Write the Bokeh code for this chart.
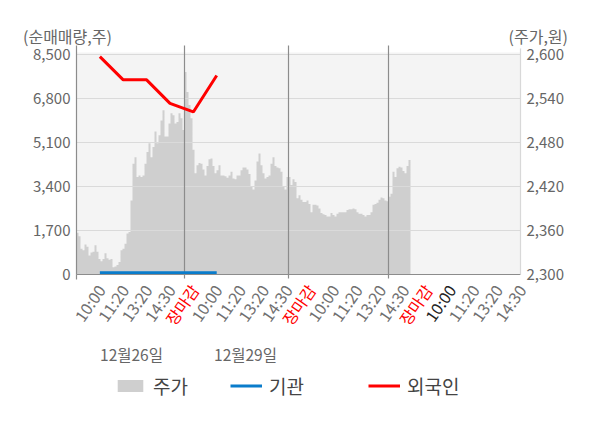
import math
import numpy as np
from bokeh.plotting import figure
from bokeh.models import (Range1d, LinearAxis, FixedTicker, NumeralTickFormatter, Grid,
                          ColumnDataSource, LabelSet, Label, Legend, LegendItem)
from bokeh.core.properties import value
from bokeh.embed import file_html
from bokeh.resources import INLINE

FONT = "Noto Sans CJK KR"

# ---------------- data ----------------
time_labels = ["10:00", "11:20", "13:20", "14:30", "장마감",
               "10:00", "11:20", "13:20", "14:30", "장마감",
               "10:00", "11:20", "13:20", "14:30", "장마감",
               "10:00", "11:20", "13:20", "14:30"]
date_labels = ["12월26일", "12월29일"]

# net buying (shares) at the first category points
foreign = [8420, 7520, 7520, 6610, 6280, 7690]      # 외국인
institution = [70, 70, 70, 70, 70, 70]               # 기관

# share price (won), one bar per interval, per trading day
price_day1 = [2357, 2352, 2335, 2333, 2341, 2338, 2326, 2330, 2331, 2340,
              2331, 2321, 2318, 2321, 2329, 2322, 2320, 2321, 2310, 2311,
              2313, 2317, 2333, 2335, 2342, 2356, 2358, 2401, 2451, 2460,
              2433, 2435, 2433, 2435, 2451, 2467, 2479, 2460, 2474, 2495,
              2479, 2490, 2510, 2524, 2488, 2488, 2506, 2520, 2517, 2506,
              2508, 2520, 2513, 2497]
price_day2 = [2576, 2549, 2531, 2513, 2470, 2438, 2449, 2452, 2451, 2443,
              2435, 2448, 2457, 2458, 2448, 2438, 2442, 2449, 2435, 2435,
              2434, 2432, 2435, 2440, 2431, 2430, 2435, 2435, 2442, 2446,
              2446, 2443, 2437, 2420, 2416, 2428, 2454, 2465, 2449, 2438,
              2431, 2433, 2435, 2451, 2460, 2448, 2446, 2445, 2440, 2420,
              2416, 2433]
price_day3 = [2433, 2422, 2430, 2426, 2404, 2408, 2402, 2399, 2399, 2401,
              2396, 2385, 2395, 2395, 2394, 2390, 2384, 2382, 2381, 2379,
              2379, 2384, 2381, 2379, 2383, 2385, 2385, 2385, 2385, 2388,
              2389, 2389, 2390, 2389, 2385, 2383, 2383, 2381, 2379, 2381,
              2381, 2385, 2395, 2396, 2398, 2402, 2405, 2404, 2401, 2400]
price_day4 = [2406, 2410, 2440, 2433, 2445, 2447, 2446, 2441, 2438, 2448, 2456]

left_ticks = [0, 1700, 3400, 5100, 6800, 8500]
right_ticks = [2300, 2360, 2420, 2480, 2540, 2600]

# ---------------- layout constants (window pixels) ----------------
W, H = 598, 426
FRAME_L, FRAME_T = 76, 52
FRAME_W, FRAME_H = 444, 222
FRAME_B = FRAME_T + FRAME_H
PRICE_SLOTS = 222                  # price bars that would fill the plot area
LEFT_MAX = 8577
RIGHT_MIN, RIGHT_MAX = 2300, 2602.7
n_cat = len(time_labels)

def x_at(px):   # window px -> price-slot x
    return (px - FRAME_L) * PRICE_SLOTS / FRAME_W

def c_at(px):   # window px -> category x
    return (px - FRAME_L) * n_cat / FRAME_W

def y_at(py):   # window px -> left-axis y
    return (FRAME_B - py) * LEFT_MAX / FRAME_H

def r_at(py):   # window px -> right-axis y
    return RIGHT_MIN + (FRAME_B - py) * (RIGHT_MAX - RIGHT_MIN) / FRAME_H

p = figure(width=W, height=H, min_border=0,
           x_range=Range1d(x_at(0), x_at(W)), y_range=Range1d(y_at(H), y_at(0)),
           x_axis_location=None, y_axis_location=None,
           output_backend="svg", toolbar_location=None,
           background_fill_color="white", border_fill_color="white",
           outline_line_color=None)
p.grid.visible = False
p.extra_x_ranges = {"cat": Range1d(c_at(0), c_at(W))}
p.extra_y_ranges = {"price": Range1d(r_at(H), r_at(0))}

# ---- plot area background ----
bg = p.quad(left=0, right=PRICE_SLOTS, bottom=0, top=LEFT_MAX,
            fill_color="#f4f4f4", line_color=None)
bg.level = "image"

# ---- price area (step) ----
days = [price_day1, price_day2, price_day3, price_day4]
prices = np.array(sum(days, []), dtype=float)
edges = np.arange(len(prices) + 1)
xs = np.repeat(edges, 2)[1:-1]
ys = np.repeat(prices, 2)
area = p.varea(x=xs, y1=RIGHT_MIN, y2=ys, fill_color="#cfcfcf", y_range_name="price")
area.level = "image"

bounds = [int(b) for b in np.cumsum([len(d) for d in days])[:-1]]

# ---- grids ----
hgrid = Grid(dimension=1, ticker=FixedTicker(ticks=left_ticks[1:]),
             cross_bounds=(0, PRICE_SLOTS),
             grid_line_color="#dadada", grid_line_width=1.2)
vgrid = Grid(dimension=0, ticker=FixedTicker(ticks=bounds),
             cross_bounds=(y_at(278), y_at(45)),
             grid_line_color="#8c8c8c", grid_line_width=1.2)
p.add_layout(hgrid)
p.add_layout(vgrid)

# ---- lines ----
cat_x = np.arange(1, len(foreign) + 1)
inst_r = p.line(cat_x, institution, line_color="#0a7ccb", line_width=3, x_range_name="cat")
for_r = p.line(cat_x, foreign, line_color="#ff0000", line_width=3, x_range_name="cat")

# ---- axes ----
xa = LinearAxis(fixed_location=0, bounds=(0, PRICE_SLOTS),
                ticker=FixedTicker(ticks=[], minor_ticks=[0]))
xa.major_label_text_font_size = "0px"
xa.major_tick_out = 0
xa.major_tick_in = 0
xa.minor_tick_out = 5
xa.minor_tick_in = 0
xa.minor_tick_line_color = "#8c8c8c"
xa.minor_tick_line_width = 1.2
xa.axis_line_color = "#8c8c8c"
xa.axis_line_width = 1.2
p.add_layout(xa, "below")

ya = LinearAxis(fixed_location=0, bounds=(0, y_at(45)),
                ticker=FixedTicker(ticks=left_ticks),
                formatter=NumeralTickFormatter(format="0,0"))
ra = LinearAxis(fixed_location=PRICE_SLOTS, y_range_name="price", bounds=(RIGHT_MIN, r_at(48)),
                ticker=FixedTicker(ticks=right_ticks),
                formatter=NumeralTickFormatter(format="0,0"))
for ax, col in ((ya, "#8c8c8c"), (ra, "#d8d8d8")):
    ax.axis_line_color = col
    ax.axis_line_width = 1.2
    ax.major_tick_out = 0
    ax.major_tick_in = 0
    ax.minor_tick_out = 0
    ax.minor_tick_in = 0
    ax.major_label_text_font = FONT
    ax.major_label_text_font_size = "15px"
    ax.major_label_text_color = "#666666"
    ax.major_label_standoff = 6
p.add_layout(ya, "left")
p.add_layout(ra, "right")

# ---- category labels ----
lab_colors = ["#ff0000" if t == "장마감" else ("#222222" if k == 15 else "#707070")
              for k, t in enumerate(time_labels)]
lab_src = ColumnDataSource(dict(x=np.arange(1, n_cat + 1), y=[y_at(286)] * n_cat,
                                text=time_labels, color=lab_colors))
p.add_layout(LabelSet(x="x", y="y", text="text", source=lab_src, x_range_name="cat",
                      angle=math.radians(55), text_align="right", text_baseline="middle",
                      text_color="color", text_font=value(FONT), text_font_size="16px",
                      x_offset=1))

# ---- date labels ----
for d, cx in zip(date_labels, (131, 245)):
    p.add_layout(Label(x=x_at(cx), y=y_at(353), text=d, text_align="center",
                       text_baseline="middle", text_font=FONT, text_font_size="15.5px",
                       text_color="#666666"))

# ---- axis titles ----
p.add_layout(Label(x=x_at(22.5), y=y_at(35), text="(순매매량,주)", text_align="left",
                   text_baseline="middle", text_font=FONT, text_font_size="16px",
                   text_color="#666666"))
p.add_layout(Label(x=x_at(567.5), y=y_at(35), text="(주가,원)", text_align="right",
                   text_baseline="middle", text_font=FONT, text_font_size="16px",
                   text_color="#666666"))

# ---- legends ----
for label, rend, lx in (("주가", area, 114), ("기관", inst_r, 230), ("외국인", for_r, 368)):
    leg = Legend(items=[LegendItem(label=label, renderers=[rend])],
                 location=(lx, H - 399), orientation="horizontal",
                 glyph_width=32, glyph_height=15, label_standoff=7,
                 padding=0, margin=0, border_line_color=None, background_fill_alpha=0,
                 label_text_font=FONT, label_text_font_size="19px",
                 label_text_color="#444444")
    p.add_layout(leg)

open("out.html", "w").write(file_html(p, INLINE))
